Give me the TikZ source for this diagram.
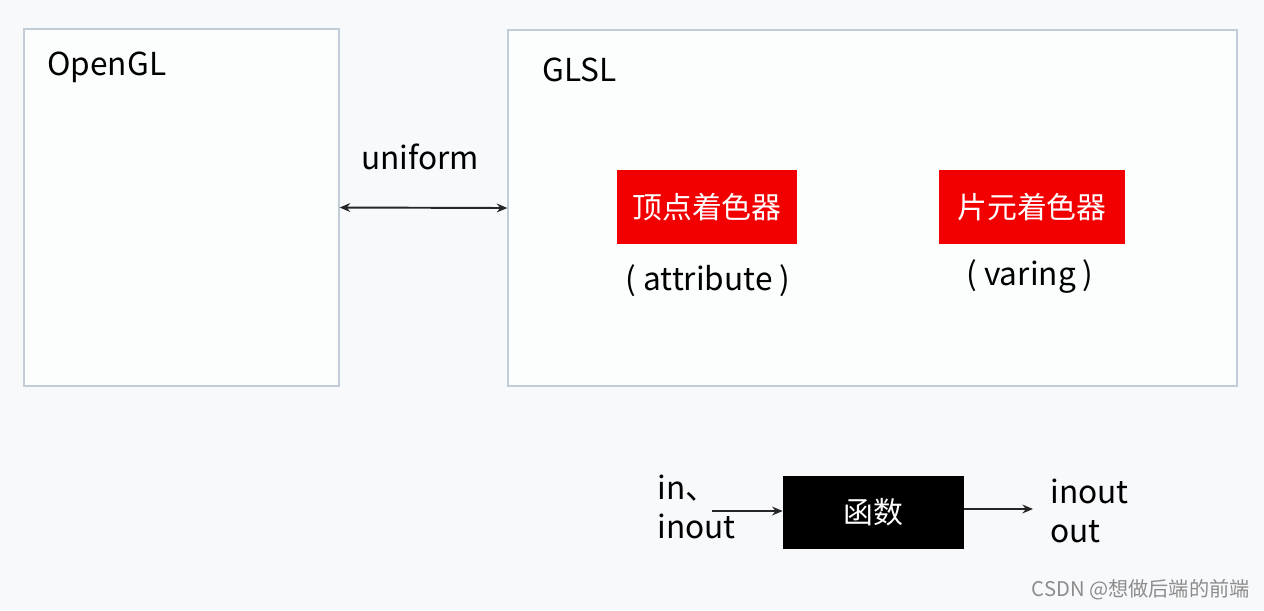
\documentclass[tikz,border=0pt]{standalone}
\usepackage{fontspec}
\setmainfont{Noto Sans CJK SC}
\usepackage{xcolor}
\usetikzlibrary{arrows.meta}

\definecolor{bgcol}{HTML}{F8F9FB}
\definecolor{framecol}{HTML}{C3CDD8}
\definecolor{shaderred}{HTML}{F20000}

\begin{document}
\begin{tikzpicture}[x=0.02cm,y=-0.02cm]
    \tikzstyle{Frame}=[rectangle,draw=framecol,line width=0.8pt,fill=white!60!bgcol]
    \tikzstyle{Shader}=[rectangle,fill=shaderred,text=white,minimum width=3.6cm,minimum height=1.48cm,inner sep=0pt]
    \tikzstyle{Func}=[rectangle,fill=black,text=white,minimum width=3.62cm,minimum height=1.46cm,inner sep=0pt]
    \tikzstyle{Txt}=[inner sep=0pt,font=\fontsize{18}{22}\selectfont]
    \tikzstyle{Link}=[line width=1.1pt,draw=black!85]

    % background and size
    \fill[bgcol] (0,0) rectangle (1264,610);
    \useasboundingbox (0,0) rectangle (1264,610);

    % the two big boxes
    \node [Frame,minimum width=6.3cm,minimum height=7.14cm]  (opengl) at (181.5,207.5) {};
    \node [Frame,minimum width=14.58cm,minimum height=7.12cm] (glsl) at (872.5,208) {};
    \node [Txt,anchor=west] (opengltitle) at (47,67) {OpenGL};
    \node [Txt,anchor=west] (glsltitle) at (542,70) {GLSL};

    % uniform between them
    \draw [Link,{Stealth[length=6pt,width=5pt]}-{Stealth[length=6pt,width=5pt]}] (opengl.east) -- (glsl.west);
    \node [Txt] (uniform) at (420,157) {uniform};

    % shaders
    \node [Shader,font=\fontsize{17}{21}\selectfont] (vertex) at (707,207) {顶点着色器};
    \node [Shader,font=\fontsize{17}{21}\selectfont,minimum width=3.72cm] (fragment) at (1032,207) {片元着色器};
    \node [Txt] (attr) at (708,281) {( attribute )};
    \node [Txt] (vary) at (1030,277) {( varing )};

    % function with in / out
    \node [Func,font=\fontsize{17}{21}\selectfont] (func) at (873.5,512.5) {函数};
    \node [Txt,anchor=west,align=left] (inputs) at (657,507) {in、\\inout};
    \node [Txt,anchor=west,align=left] (outputs) at (1050,511) {inout\\out};
    \coordinate (instart) at (712,511);
    \coordinate (outend) at (1033,509);
    \draw [Link,-{Stealth[length=6pt,width=5pt]}] (instart) -- (instart -| func.west);
    \draw [Link,-{Stealth[length=6pt,width=5pt]}] (func.east |- outend) -- (outend);

    % watermark
    \node [inner sep=0pt,anchor=east,text=black!45,font=\fontsize{11.5}{13}\selectfont] (mark) at (1250,590) {CSDN @想做后端的前端};
\end{tikzpicture}
\end{document}
